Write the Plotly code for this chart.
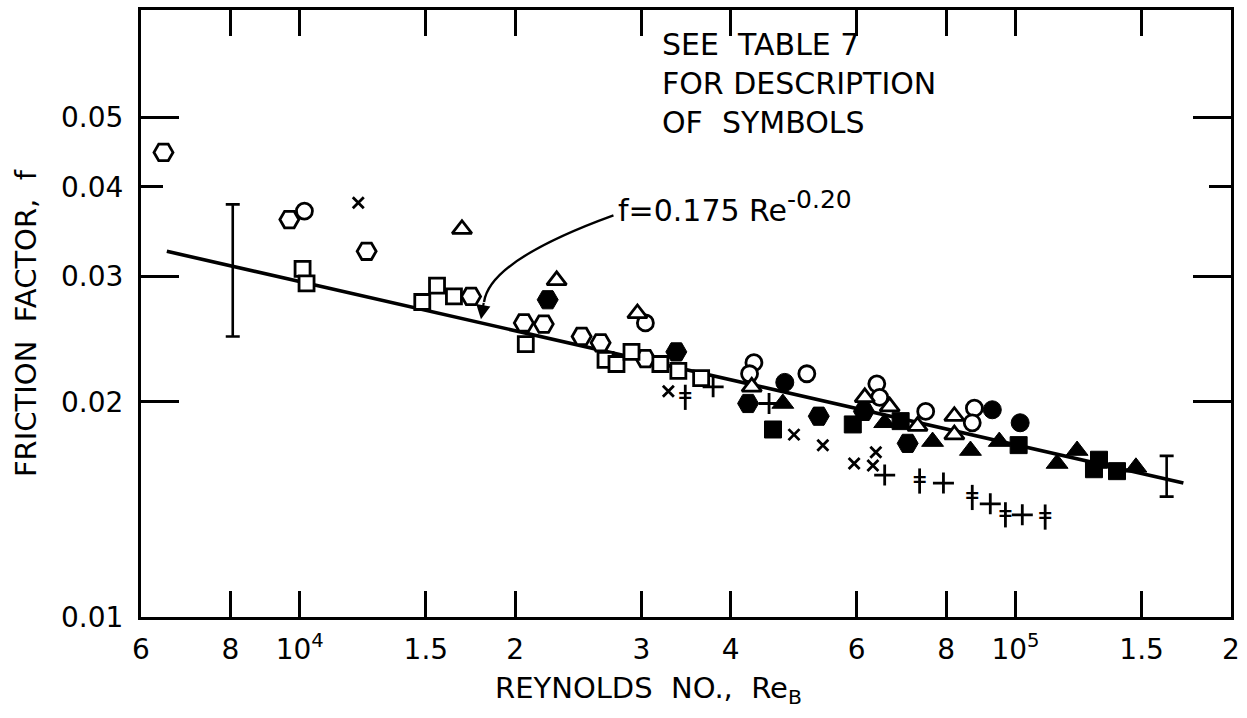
import math
import plotly.graph_objects as go

# ---- friction factor measurements, grouped by plotting symbol ----
open_hex_re = [6450, 9670, 12400, 17350, 20560, 21920, 24760, 26320, 30400]
open_hex_f = [0.0447, 0.0360, 0.0325, 0.0281, 0.0258, 0.0257, 0.0247, 0.0242, 0.0230]

open_circle_re = [10150, 30400, 43100, 42500, 51100, 64000, 64600, 74900, 87600, 87000]
open_circle_f = [0.0370, 0.0258, 0.0227, 0.0219, 0.0219, 0.0212, 0.0203, 0.0194, 0.0196, 0.0187]

open_square_re = [10090, 10220, 14830, 15550, 16420, 20690, 26740, 27700, 29070, 31900, 33800, 36370]
open_square_f = [0.0307, 0.0293, 0.0276, 0.0291, 0.0281, 0.0241, 0.0229, 0.0226, 0.0235, 0.0226, 0.0221, 0.0216]

open_tri_re = [16850, 22850, 29630, 42800, 61570, 66700, 72960, 82130, 82130]
open_tri_f = [0.0349, 0.0296, 0.0266, 0.0210, 0.0203, 0.0197, 0.0185, 0.0191, 0.0180]

solid_hex_re = [22200, 33580, 42300, 53100, 61400, 70680]
solid_hex_f = [0.0278, 0.0235, 0.0199, 0.0191, 0.0194, 0.0175]

solid_circle_re = [47600, 92800, 101500]
solid_circle_f = [0.0213, 0.0195, 0.0187]

solid_square_re = [45830, 59240, 69100, 101000, 128700, 130800, 138600]
solid_square_f = [0.0183, 0.0186, 0.0188, 0.0174, 0.0161, 0.0166, 0.0160]

solid_tri_re = [47300, 65640, 76580, 86500, 94900, 114300, 121900, 147300]
solid_tri_f = [0.0199, 0.0187, 0.0176, 0.0171, 0.0176, 0.0164, 0.0171, 0.0162]

cross_x_re = [12070, 32730, 49030, 53800, 59500, 63800, 63200]
cross_x_f = [0.0380, 0.0207, 0.0180, 0.0174, 0.0164, 0.0170, 0.0163]

plus_re = [37800, 45250, 65640, 79300, 92200, 102200]
plus_f = [0.0210, 0.0199, 0.0158, 0.0154, 0.0144, 0.0139]

dagger_re = [34560, 73450, 87000, 96800, 110000]
dagger_f = [0.0203, 0.0155, 0.0147, 0.0139, 0.0138]

# correlation line end points
fit_re = [6520, 171600]
fit_f = [0.0325, 0.0154]

# scatter bands (low / high friction factor)
band_re = [8060, 162600]
band_lo = [0.0247, 0.01474]
band_hi = [0.0378, 0.01681]

# axis ticks
x_tickvals = [6000, 8000, 10000, 15000, 20000, 30000, 40000, 60000, 80000, 100000, 150000, 200000]
x_ticktext = ["6", "8", "10<sup>4</sup>", "1.5", "2", "3", "4", "6", "8", "10<sup>5</sup>", "1.5", "2"]
y_tickvals = [0.01, 0.02, 0.03, 0.04, 0.05]
y_ticktext = ["0.01", "0.02", "0.03", "0.04", "0.05"]
y_long_ticks = [0.01, 0.02, 0.03, 0.05]

FONT = "DejaVu Sans"
INK = "black"

X_RANGE = [math.log10(6000), math.log10(200000)]
Y_RANGE = [-2.0, -1.1504]


def paper_x(re):
    return (math.log10(re) - X_RANGE[0]) / (X_RANGE[1] - X_RANGE[0])


def paper_y(f):
    return (math.log10(f) - Y_RANGE[0]) / (Y_RANGE[1] - Y_RANGE[0])


fig = go.Figure()

fig.add_trace(go.Scatter(
    x=fit_re, y=fit_f, mode="lines",
    line=dict(color=INK, width=3.6), hoverinfo="skip",
))

fig.add_trace(go.Scatter(
    x=band_re, y=band_lo, mode="markers",
    marker=dict(size=1, color="rgba(0,0,0,0)"),
    error_y=dict(
        type="data", symmetric=False,
        array=[h - l for h, l in zip(band_hi, band_lo)],
        arrayminus=[0 for _ in band_lo],
        color=INK, thickness=2.6, width=7,
    ),
    hoverinfo="skip",
))


def open_marker(re, f, symbol, size):
    return go.Scatter(
        x=re, y=f, mode="markers",
        marker=dict(symbol=symbol, size=size, color="white",
                    line=dict(color=INK, width=2.8)),
    )


def solid_marker(re, f, symbol, size):
    return go.Scatter(
        x=re, y=f, mode="markers",
        marker=dict(symbol=symbol, size=size, color=INK,
                    line=dict(color=INK, width=1)),
    )


fig.add_trace(open_marker(open_hex_re, open_hex_f, "hexagon2", 19))
fig.add_trace(open_marker(open_square_re, open_square_f, "square", 15))
fig.add_trace(open_marker(open_circle_re, open_circle_f, "circle", 16))
fig.add_trace(open_marker(open_tri_re, open_tri_f, "triangle-up", 17))
fig.add_trace(solid_marker(solid_hex_re, solid_hex_f, "hexagon2", 21))
fig.add_trace(solid_marker(solid_square_re, solid_square_f, "square", 17))
fig.add_trace(solid_marker(solid_circle_re, solid_circle_f, "circle", 18))
fig.add_trace(solid_marker(solid_tri_re, solid_tri_f, "triangle-up", 19))

fig.add_trace(go.Scatter(
    x=cross_x_re, y=cross_x_f, mode="markers",
    marker=dict(symbol="x-thin", size=11, color=INK, line=dict(color=INK, width=2.8)),
))
fig.add_trace(go.Scatter(
    x=plus_re, y=plus_f, mode="markers",
    marker=dict(symbol="cross-thin", size=15, color=INK, line=dict(color=INK, width=2.8)),
))
# double-barred cross: a vertical stem with two short bars across it
fig.add_trace(go.Scatter(
    x=dagger_re, y=dagger_f, mode="markers",
    marker=dict(symbol="line-ns", size=18, color=INK, line=dict(color=INK, width=2.8)),
))
fig.add_trace(go.Scatter(
    x=dagger_re, y=dagger_f, mode="text", text=["="] * len(dagger_re),
    textposition="middle center",
    textfont=dict(family=FONT, size=19, color=INK, weight="bold"),
))

# curved leader from the correlation label down to the line
tip_re, tip_f = 17910, 0.0261
start_re, start_f = 27430, 0.0365
ctrl_re, ctrl_f = 18440, 0.0316
tail_re, tail_f = 18090, 0.0276
x0, y0 = paper_x(start_re), paper_y(start_f)
x1, y1 = paper_x(ctrl_re), paper_y(ctrl_f)
x2, y2 = paper_x(tail_re), paper_y(tail_f)
fig.add_shape(
    type="path", xref="paper", yref="paper",
    path=f"M {x0},{y0} Q {x1},{y1} {x2},{y2}",
    line=dict(color=INK, width=2.4),
)
fig.add_annotation(
    xref="paper", yref="paper", x=paper_x(tip_re), y=paper_y(tip_f),
    axref="pixel", ayref="pixel", ax=3, ay=-18, text="",
    showarrow=True, arrowhead=2, arrowsize=1.3, arrowwidth=2.2, arrowcolor=INK,
)

fig.add_annotation(
    xref="paper", yref="paper", x=paper_x(27700), y=paper_y(0.0376),
    xanchor="left", yanchor="middle", showarrow=False,
    text='f=0.175 Re<sup><span style="font-size:25px">-0.20</span></sup>',
    font=dict(family=FONT, size=30, color=INK),
)

fig.add_annotation(
    xref="paper", yref="paper", x=0.4758, y=0.975,
    xanchor="left", yanchor="top", showarrow=False, align="left",
    text="SEE  TABLE 7<br>FOR DESCRIPTION<br>OF  SYMBOLS",
    font=dict(family=FONT, size=30, color=INK),
)

fig.add_annotation(
    xref="paper", yref="paper", x=0.466, y=-0.12,
    xanchor="center", yanchor="middle", showarrow=False,
    text="REYNOLDS  NO.,  Re<sub>B</sub>",
    font=dict(family=FONT, size=29, color=INK),
)
fig.add_annotation(
    xref="paper", yref="paper", x=-0.106, y=0.485,
    xanchor="center", yanchor="middle", showarrow=False, textangle=-90,
    text="FRICTION  FACTOR,  f",
    font=dict(family=FONT, size=29, color=INK),
)

fig.update_xaxes(
    type="log", range=X_RANGE,
    tickmode="array", tickvals=x_tickvals, ticktext=x_ticktext,
    ticks="inside", ticklen=26, tickwidth=2.5, tickcolor=INK,
    showline=True, linewidth=3, linecolor=INK, mirror="ticks",
    showgrid=False, zeroline=False,
    tickfont=dict(family=FONT, size=28, color=INK),
    ticklabelstandoff=5,
)
fig.update_yaxes(
    type="log", range=Y_RANGE,
    tickmode="array", tickvals=y_tickvals, ticktext=y_ticktext,
    ticks="inside", ticklen=22, tickwidth=2.5, tickcolor=INK,
    minor=dict(tickmode="array", tickvals=y_long_ticks, ticks="inside",
               ticklen=38, tickwidth=2.5, tickcolor=INK, showgrid=False),
    showline=True, linewidth=3, linecolor=INK, mirror="ticks",
    showgrid=False, zeroline=False,
    tickfont=dict(family=FONT, size=28, color=INK),
    ticklabelstandoff=9,
)

fig.update_layout(
    width=1247, height=718,
    margin=dict(l=141, r=11, t=7, b=101, pad=0),
    paper_bgcolor="white", plot_bgcolor="white",
    showlegend=False,
)

fig.write_html("out.html")
